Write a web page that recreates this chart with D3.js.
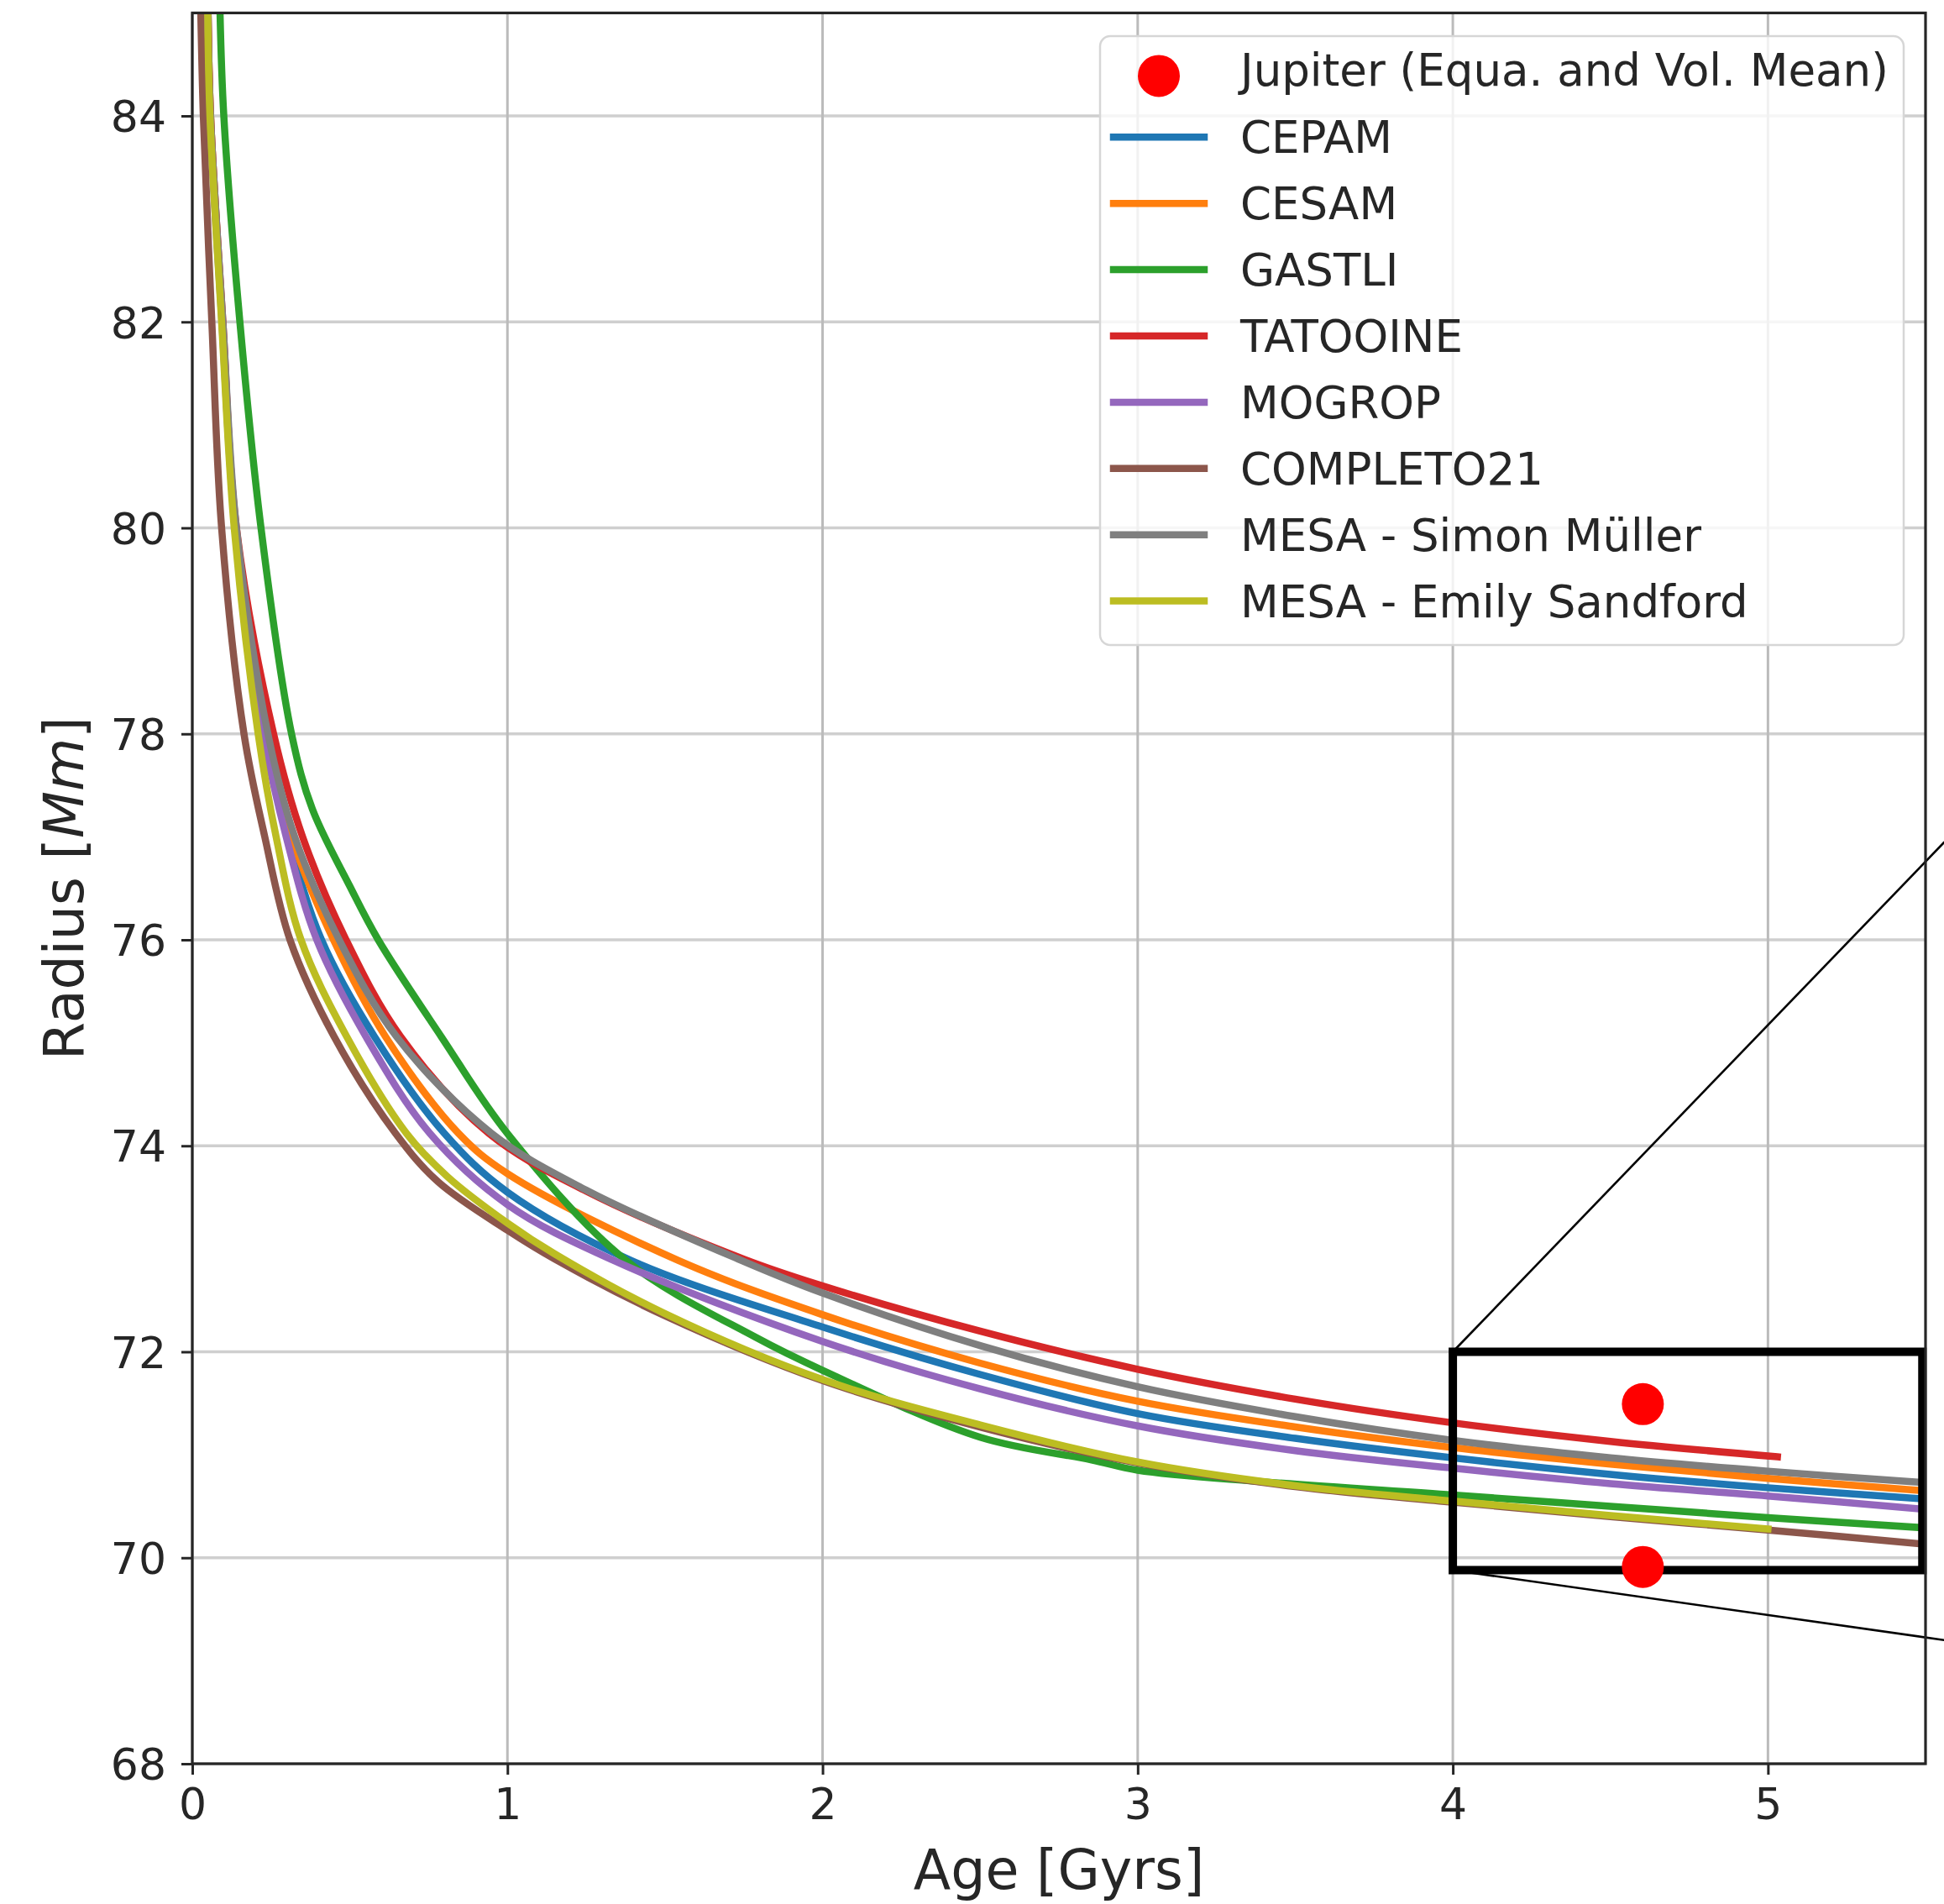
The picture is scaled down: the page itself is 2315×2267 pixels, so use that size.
<!DOCTYPE html>
<html>
<head>
<meta charset="utf-8">
<script src="https://cdn.jsdelivr.net/npm/d3@7"></script>
<style>
  body { margin: 0; background: #ffffff; }
  svg { display: block; }
  text { font-family: 'DejaVu Sans', sans-serif; }
</style>
</head>
<body>
<svg id="chart" width="2315" height="2267"></svg>
<script>
// ---------------- DATA ----------------
const models = ["CEPAM", "CESAM", "GASTLI", "TATOOINE", "MOGROP", "COMPLETO21",
                "MESA - Simon Müller", "MESA - Emily Sandford"];

const cepamAge    = [0.05, 0.057, 0.095, 0.137, 0.23, 0.305, 0.41, 0.578, 0.80, 1.0, 1.39, 2.0, 2.5, 3.0, 3.5, 4.0, 4.5, 5.0, 5.5];
const cepamRadius = [85, 84, 82, 80, 78, 77, 76, 75.06, 74.12, 73.55, 72.89, 72.24, 71.78, 71.40, 71.16, 70.97, 70.81, 70.68, 70.57];

const cesamAge    = [0.05, 0.058, 0.096, 0.138, 0.235, 0.315, 0.448, 0.613, 0.845, 1.0, 1.54, 2.0, 2.5, 3.0, 3.5, 4.0, 4.5, 5.0, 5.5];
const cesamRadius = [85, 84, 82, 80, 78, 77, 76, 75.06, 74.12, 73.73, 72.89, 72.36, 71.89, 71.52, 71.27, 71.07, 70.91, 70.77, 70.65];

const gastliAge    = [0.088, 0.10, 0.151, 0.218, 0.315, 0.381, 0.5, 0.59, 0.79, 1.0, 1.375, 1.788, 2.0, 2.5, 2.854, 3.0, 3.387, 4.0, 4.5, 5.0, 5.5];
const gastliRadius = [85, 84, 82, 80, 78, 77.27, 76.52, 76, 75.06, 74.12, 72.89, 72.14, 71.82, 71.17, 70.95, 70.85, 70.74, 70.61, 70.50, 70.39, 70.29];

const tatooineAge    = [0.05, 0.058, 0.097, 0.14, 0.258, 0.35, 0.488, 0.661, 0.941, 1.25, 1.75, 2.0, 2.5, 3.0, 3.5, 4.0, 4.5, 5.03];
const tatooineRadius = [85, 84, 82, 80, 78, 77, 76, 75.06, 74.12, 73.56, 72.90, 72.64, 72.20, 71.83, 71.54, 71.31, 71.13, 70.98];

const mogropAge    = [0.049, 0.056, 0.094, 0.136, 0.225, 0.298, 0.395, 0.551, 0.754, 1.0, 1.335, 2.0, 2.5, 3.0, 3.5, 4.0, 4.5, 5.0, 5.5];
const mogropRadius = [85, 84, 82, 80, 78, 77, 76, 75.06, 74.12, 73.43, 72.89, 72.10, 71.64, 71.28, 71.04, 70.87, 70.72, 70.60, 70.47];

const completoAge    = [0.027, 0.035, 0.062, 0.093, 0.164, 0.23, 0.31, 0.45, 0.645, 0.78, 1.0, 1.15, 1.5, 2.0, 2.5, 3.0, 3.5, 4.0, 4.5, 5.0, 5.5];
const completoRadius = [85, 84, 82, 80, 78, 77, 76, 75.06, 74.12, 73.65, 73.18, 72.90, 72.35, 71.72, 71.27, 70.92, 70.69, 70.54, 70.40, 70.27, 70.13];

const mesaSMAge    = [0.05, 0.058, 0.097, 0.14, 0.24, 0.325, 0.466, 0.648, 0.95, 1.25, 1.74, 2.0, 2.5, 3.0, 3.5, 4.0, 4.5, 5.0, 5.5];
const mesaSMRadius = [85, 84, 82, 80, 78, 77, 76, 75.06, 74.12, 73.57, 72.89, 72.57, 72.06, 71.66, 71.37, 71.14, 70.97, 70.84, 70.73];

const mesaESAge    = [0.049, 0.056, 0.093, 0.133, 0.209, 0.266, 0.345, 0.49, 0.68, 0.81, 1.0, 1.15, 1.5, 2.0, 2.5, 3.0, 3.5, 4.0, 4.5, 5.0];
const mesaESRadius = [85, 84, 82, 80, 78, 77, 76, 75.06, 74.12, 73.70, 73.25, 72.95, 72.37, 71.73, 71.29, 70.93, 70.70, 70.55, 70.41, 70.28];

const jupiterLabel  = "Jupiter (Equa. and Vol. Mean)";
const jupiterAge    = [4.603, 4.603];
const jupiterRadius = [71.492, 69.911];

const xTicks = [0, 1, 2, 3, 4, 5];
const yTicks = [68, 70, 72, 74, 76, 78, 80, 82, 84];
const xDomain = [0, 5.5];
const yDomain = [68, 85];

// zoom-indicator region (data coords) and far ends of connector lines
const insetAge    = [4.0, 5.49];
const insetRadius = [69.88, 72.0];
const connectorEndAge    = [5.56, 5.56];
const connectorEndRadius = [76.95, 69.2];

// ---------------- STYLE ----------------
const palette = ["#1f77b4", "#ff7f0e", "#2ca02c", "#d62728", "#9467bd", "#8c564b", "#7f7f7f", "#bcbd22"];
const seriesAges = [cepamAge, cesamAge, gastliAge, tatooineAge, mogropAge, completoAge, mesaSMAge, mesaESAge];
const seriesRadii = [cepamRadius, cesamRadius, gastliRadius, tatooineRadius, mogropRadius, completoRadius, mesaSMRadius, mesaESRadius];

const W = 2315, H = 2267;
const plotL = 229, plotR = 2293, plotT = 15.4, plotB = 2100;
const lineW = 8.5;
const tickFont = 52, labelFont = 65, legendFont = 53;

const svg = d3.select("#chart");
svg.append("rect").attr("width", W).attr("height", H).attr("fill", "#ffffff");

const x = d3.scaleLinear().domain(xDomain).range([plotL, plotR]);
const y = d3.scaleLinear().domain(yDomain).range([plotB, plotT]);

svg.append("defs").append("clipPath").attr("id", "plotclip")
  .append("rect").attr("x", plotL).attr("y", plotT)
  .attr("width", plotR - plotL).attr("height", plotB - plotT);

// grid
const grid = svg.append("g");
grid.selectAll("line.h").data(yTicks).join("line")
  .attr("x1", plotL).attr("x2", plotR)
  .attr("y1", d => y(d)).attr("y2", d => y(d))
  .attr("stroke", "#cfcfcf").attr("stroke-width", 3.5);
grid.selectAll("line.v").data(xTicks).join("line")
  .attr("y1", plotT).attr("y2", plotB)
  .attr("x1", d => x(d)).attr("x2", d => x(d))
  .attr("stroke", "#bbbbbb").attr("stroke-width", 3);

// series lines
const plotG = svg.append("g").attr("clip-path", "url(#plotclip)");
const lineGen = d3.line().x(d => x(d[0])).y(d => y(d[1])).curve(d3.curveCatmullRom.alpha(0.5));
models.forEach((m, i) => {
  const pts = seriesAges[i].map((a, k) => [a, seriesRadii[i][k]]);
  plotG.append("path").datum(pts)
    .attr("d", lineGen)
    .attr("fill", "none")
    .attr("stroke", palette[i])
    .attr("stroke-width", lineW)
    .attr("stroke-linecap", "square")
    .attr("stroke-linejoin", "round");
});

// zoom indicator box
svg.append("rect")
  .attr("x", x(insetAge[0])).attr("y", y(insetRadius[1]))
  .attr("width", x(insetAge[1]) - x(insetAge[0]))
  .attr("height", y(insetRadius[0]) - y(insetRadius[1]))
  .attr("fill", "none").attr("stroke", "#000").attr("stroke-width", 10);

// connector lines
svg.append("line")
  .attr("x1", x(insetAge[0])).attr("y1", y(insetRadius[1]))
  .attr("x2", x(connectorEndAge[0])).attr("y2", y(connectorEndRadius[0]))
  .attr("stroke", "#000").attr("stroke-width", 2.6);
svg.append("line")
  .attr("x1", x(insetAge[0])).attr("y1", y(insetRadius[0]))
  .attr("x2", x(connectorEndAge[1])).attr("y2", y(connectorEndRadius[1]))
  .attr("stroke", "#000").attr("stroke-width", 2.6);

// Jupiter points
svg.append("g").selectAll("circle").data(jupiterAge.map((a, k) => [a, jupiterRadius[k]])).join("circle")
  .attr("cx", d => x(d[0])).attr("cy", d => y(d[1])).attr("r", 25)
  .attr("fill", "#ff0000");

// spines
svg.append("rect").attr("x", plotL).attr("y", plotT)
  .attr("width", plotR - plotL).attr("height", plotB - plotT)
  .attr("fill", "none").attr("stroke", "#262626").attr("stroke-width", 3.2);

// axes
const yAxis = d3.axisLeft(y).tickValues(yTicks).tickSize(13).tickPadding(18).tickFormat(d3.format("d"));
const xAxis = d3.axisBottom(x).tickValues(xTicks).tickSize(13).tickPadding(16).tickFormat(d3.format("d"));

const gy = svg.append("g").attr("transform", `translate(${plotL},0)`).call(yAxis);
const gx = svg.append("g").attr("transform", `translate(0,${plotB})`).call(xAxis);
[gx, gy].forEach(g => {
  g.select(".domain").remove();
  g.selectAll(".tick line").attr("stroke", "#262626").attr("stroke-width", 3);
  g.selectAll(".tick text").attr("fill", "#262626")
    .style("font-size", tickFont + "px").style("font-family", "'DejaVu Sans', sans-serif");
});
gy.selectAll(".tick text").attr("dy", "0.36em");

// axis labels
svg.append("text")
  .attr("x", (plotL + plotR) / 2).attr("y", 2249)
  .attr("text-anchor", "middle").attr("fill", "#262626")
  .style("font-size", labelFont + "px")
  .text("Age [Gyrs]");

const yl = svg.append("text")
  .attr("transform", `translate(99,${(plotT + plotB) / 2}) rotate(-90)`)
  .attr("text-anchor", "middle").attr("fill", "#262626")
  .style("font-size", labelFont + "px");
yl.append("tspan").text("Radius [");
yl.append("tspan").style("font-style", "italic").text("Mm");
yl.append("tspan").text("]");

// legend
const leg = svg.append("g");
leg.append("rect")
  .attr("x", 1310).attr("y", 43).attr("width", 957).attr("height", 725)
  .attr("rx", 12).attr("ry", 12)
  .attr("fill", "#ffffff").attr("fill-opacity", 0.8)
  .attr("stroke", "#d6d6d6").attr("stroke-width", 2.5);

const rowStep = 78.9, row0 = 84.4;
const handleX0 = 1326, handleX1 = 1434, textX = 1477;

leg.append("circle").attr("cx", 1380).attr("cy", row0 + 6).attr("r", 25).attr("fill", "#ff0000");
leg.append("text").attr("x", textX).attr("y", row0 + 18)
  .attr("fill", "#262626").style("font-size", legendFont + "px").text(jupiterLabel);

models.forEach((m, i) => {
  const cy = row0 + rowStep * (i + 1);
  leg.append("line").attr("x1", handleX0).attr("x2", handleX1)
    .attr("y1", cy).attr("y2", cy)
    .attr("stroke", palette[i]).attr("stroke-width", lineW).attr("stroke-linecap", "square");
  leg.append("text").attr("x", textX).attr("y", cy + 19)
    .attr("fill", "#262626").style("font-size", legendFont + "px").text(m);
});
</script>
</body>
</html>
